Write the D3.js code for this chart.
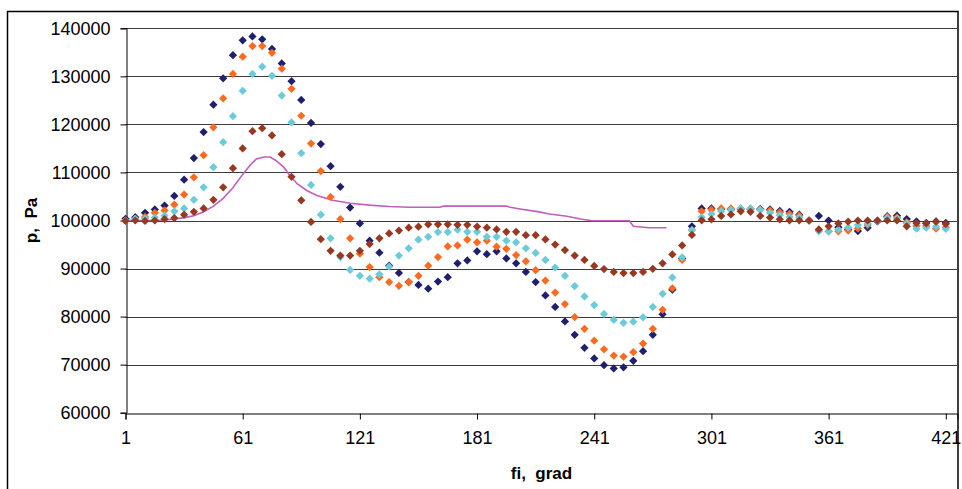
<!DOCTYPE html>
<html>
<head>
<meta charset="utf-8">
<script src="https://cdn.jsdelivr.net/npm/d3@7"></script>
<style>
  body { margin: 0; background: #fff; }
  text { font-family: "Liberation Sans", Arial, sans-serif; }
</style>
</head>
<body>
<svg id="chart" width="962" height="489"></svg>
<script>
// angle, degrees (every 5th row has a marker)
const fi = d3.range(1, 422, 5);

const seriesNavy = [100350,100700,101600,102300,103100,105100,108500,113000,118400,124100,
  129600,134400,137500,138300,137700,135700,132700,129000,125100,120300,
  115900,111300,107000,102700,99400,95800,93300,90600,89100,87200,
  86600,85800,87300,88200,91100,91700,93600,93000,93600,92100,
  91100,89300,87200,84400,82000,79000,76200,73500,71300,69900,
  69200,69450,70800,72800,76200,80500,85600,92100,98800,102500,
  102500,102400,102300,102400,102400,102400,102300,102000,101800,101200,
  100000,100950,100000,98600,98200,97800,98500,99800,100900,101000,
  100300,99800,99500,99800,99500];

const seriesOrange = [100000,100400,100750,101600,102100,103300,105400,109000,113600,119400,
  125400,130500,134100,136300,136300,134900,131600,127400,121800,116000,
  110300,104900,100300,96300,93100,90300,88200,87200,86400,87200,
  88500,90600,92400,94600,94800,96000,95450,95800,94550,94100,
  92800,91500,89650,87500,85000,82600,79900,77450,75000,73200,
  71900,71650,72600,74400,77450,81400,85900,91800,98000,101900,
  102250,102500,102500,102400,102400,102300,102100,101700,101400,101000,
  100000,98000,97750,97750,97900,98350,99050,100000,100750,100600,
  99650,98850,98850,98300,98550];

const seriesCyan = [100000,100300,100400,100600,101000,101900,102500,104300,106900,111100,
  116300,121700,127000,130500,132000,130100,126000,120400,114000,107400,
  101200,96300,92400,89700,88500,87900,88800,90400,92700,94200,
  96000,96600,97600,97600,98100,97650,97650,96600,96600,95800,
  95450,94200,93250,91800,90200,88500,86350,84200,82400,80550,
  79300,78700,78950,79850,82000,84750,88150,92350,98000,100700,
  101350,101950,102200,102500,102500,102200,101600,101100,100750,100600,
  100000,97750,97750,98150,98550,99050,99400,99900,100550,100400,
  99400,98300,98500,98700,98250];

const seriesBrown = [99900,100000,99900,100000,100300,100500,101200,101800,102500,104300,
  106900,110900,115000,118600,119200,117700,113800,109100,104200,99700,
  96100,93700,92700,92700,93700,95100,96300,97300,97900,98500,
  98700,99200,99200,99200,99100,99100,98750,98500,98150,97650,
  97650,96950,96950,96050,95000,93850,92700,91800,90550,89900,
  89300,89050,89050,89300,89950,91100,92950,94800,97000,100050,
  100250,100950,101250,101900,101800,100950,100600,100250,100050,100050,
  100000,98150,98800,99400,99750,100000,100000,100000,100000,100000,
  98800,99450,99400,99750,99250];

// continuous curve (magenta), ends near 278
const lineFi = [1,11,21,27,31,36,41,46,51,56,61,65,68,72,75,78,82,85,89,94,99,107,116,126,
  136,146,162,164,196,198,203,212,218,227,234,240,259,261,269,278];
const lineP = [100000,100000,100100,100350,100600,101000,101800,103000,104600,106800,109600,111600,112800,113200,
  113200,112500,111100,109400,107600,106200,105200,104200,103600,103200,
  102900,102750,102750,103000,103000,102750,102400,101850,101350,100900,100300,99950,99950,98800,98500,98500];

const yTicks = d3.range(60000, 140001, 10000);
const xTickLabels = [1, 61, 121, 181, 241, 301, 361, 421];

const series = [
  {name: "navy", values: seriesNavy, color: "#1f1f6e"},
  {name: "orange", values: seriesOrange, color: "#ff6a1f"},
  {name: "cyan", values: seriesCyan, color: "#6ccbd8"},
  {name: "brown", values: seriesBrown, color: "#983821"}
];

const svg = d3.select("#chart");
const plotLeft = 125.5, plotRight = 957.5, plotTop = 28.3, plotBottom = 412.7;

const x = d3.scaleLinear().domain([1, 427]).range([plotLeft, plotRight]);
const y = d3.scaleLinear().domain([60000, 140000]).range([plotBottom, plotTop]);

svg.append("rect")
  .attr("width", 962).attr("height", 489)
  .attr("fill", "#fff");

// outer frame
svg.append("rect")
  .attr("x", 7.5).attr("y", 11.5)
  .attr("width", 950.5).attr("height", 500)
  .attr("fill", "none")
  .attr("stroke", "#000")
  .attr("stroke-width", 1.5);

// grid lines
svg.append("g")
  .selectAll("line")
  .data(yTicks.slice(1))
  .join("line")
  .attr("x1", plotLeft).attr("x2", plotRight)
  .attr("y1", d => Math.round(y(d)) + 0.5)
  .attr("y2", d => Math.round(y(d)) + 0.5)
  .attr("stroke", "#3c3c3c")
  .attr("stroke-width", 1);

// y axis
const yAxis = svg.append("g")
  .attr("transform", `translate(${Math.round(plotLeft) + 0.5},0)`)
  .call(d3.axisLeft(y).tickValues(yTicks).tickSize(6).tickPadding(10).tickFormat(d3.format("d")));
yAxis.select(".domain").attr("stroke", "#000");
yAxis.selectAll(".tick line").attr("stroke", "#000");
yAxis.selectAll(".tick text")
  .attr("fill", "#000")
  .attr("font-size", "18px")
  .attr("font-family", "Liberation Sans, Arial, sans-serif");

// x axis
const xAxis = svg.append("g")
  .attr("transform", `translate(0,${Math.round(plotBottom) + 0.5})`)
  .call(d3.axisBottom(x).tickValues(xTickLabels).tickSize(6).tickPadding(12).tickFormat(d3.format("d")));
xAxis.select(".domain").attr("stroke", "#000");
xAxis.selectAll(".tick line").attr("stroke", "#000");
xAxis.selectAll(".tick text")
  .attr("fill", "#000")
  .attr("font-size", "18px")
  .attr("font-family", "Liberation Sans, Arial, sans-serif");

// magenta line
svg.append("path")
  .datum(lineFi.map((f, i) => [f, lineP[i]]))
  .attr("fill", "none")
  .attr("stroke", "#c15ebd")
  .attr("stroke-width", 1.6)
  .attr("d", d3.line().x(d => x(d[0])).y(d => y(d[1])));

// diamond markers
const diamond = d3.symbol(d3.symbolSquare, 34);
series.forEach(s => {
  svg.append("g")
    .selectAll("path")
    .data(s.values)
    .join("path")
    .attr("d", diamond)
    .attr("transform", (v, i) => `translate(${x(fi[i])},${y(v)}) rotate(45)`)
    .attr("fill", s.color);
});

// axis titles
svg.append("text")
  .text("p,  Pa")
  .attr("transform", `translate(37,${(plotTop + plotBottom) / 2}) rotate(-90)`)
  .attr("text-anchor", "middle")
  .attr("font-size", "17px")
  .attr("font-weight", "bold")
  .style("white-space", "pre");

svg.append("text")
  .text("fi,  grad")
  .attr("x", (plotLeft + plotRight) / 2)
  .attr("y", 479)
  .attr("text-anchor", "middle")
  .attr("font-size", "17px")
  .attr("font-weight", "bold")
  .style("white-space", "pre");
</script>
</body>
</html>
